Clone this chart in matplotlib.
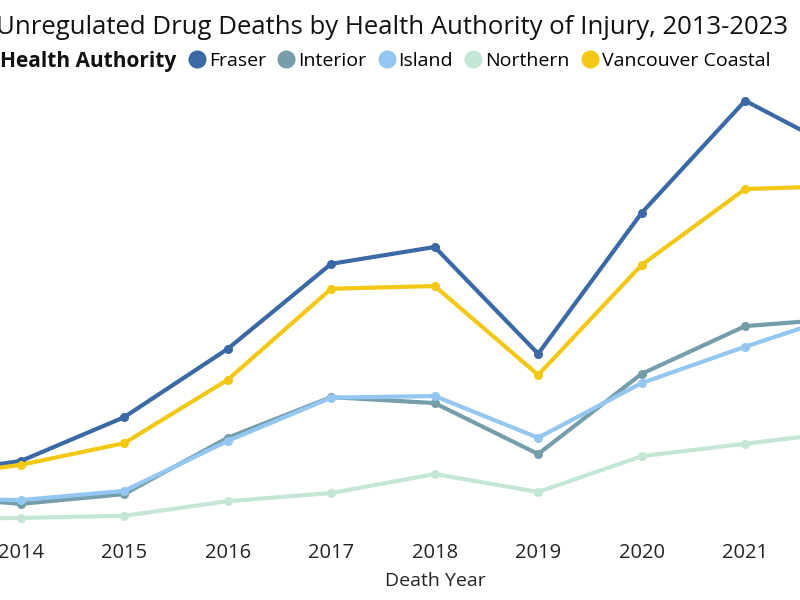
import matplotlib.pyplot as plt
from matplotlib.lines import Line2D

plt.rcParams['font.family'] = ['Open Sans', 'DejaVu Sans']

# data
years = [2013, 2014, 2015, 2016, 2017, 2018, 2019, 2020, 2021, 2022, 2023]
fraser = [99, 125, 206, 332, 489, 520, 323, 583, 790, 690, 720]
interior = [62, 46, 64, 168, 243, 232, 138, 286, 374, 389, 410]
island = [56, 53, 70, 162, 242, 245, 168, 269, 336, 399, 420]
northern = [18, 20, 24, 51, 66, 101, 68, 134, 157, 180, 190]
van_coastal = [92, 118, 158, 275, 443, 448, 284, 487, 627, 633, 660]

names = ['Fraser', 'Interior', 'Island', 'Northern', 'Vancouver Coastal']
series = [fraser, interior, island, northern, van_coastal]
colors = ['#3A69A6', '#769EAA', '#93C6F0', '#C4E7D5', '#F3C814']

fig = plt.figure(figsize=(8, 6), dpi=100)
ax = fig.add_axes([0, 1 - 532 / 600, 1, 447 / 600])

# draw order: lighter lines underneath
order = [3, 2, 1, 4, 0]
for i in order:
    ax.plot(years, series[i], color=colors[i], lw=3, marker='o', ms=5.5,
            solid_capstyle='round', zorder=2 + i)

# only the years that fit in the visible window get a label
ax.set_xticks(years[1:9])
ax.set_xlim(2013.80, 2021.53)
ax.set_ylim(-5.9, 819)
ax.tick_params(axis='x', length=0, pad=8, labelsize=14.5, labelcolor='#252423')
ax.set_yticks([])
for s in ax.spines.values():
    s.set_visible(False)

fig.text(0.544, 0.0317, 'Death Year', ha='center', va='center',
         fontsize=14, color='#252423')

fig.text(0.49, 0.955, 'Unregulated Drug Deaths by Health Authority of Injury, 2013-2023',
         ha='center', va='center', fontsize=18.5, color='#111111')

fig.text(0.0, 0.898, 'Health Authority', ha='left', va='center',
         fontsize=15, fontweight='bold', color='#111111')

handles = [Line2D([], [], ls='none', marker='o', ms=12, color=c) for c in colors]
fig.legend(handles, names, loc='center left', bbox_to_anchor=(0.232, 0.898),
           ncol=5, frameon=False, fontsize=14, handletextpad=0.0,
           columnspacing=0.45, handlelength=1.2, borderaxespad=0, borderpad=0)

fig.savefig('out.png', dpi=100)
